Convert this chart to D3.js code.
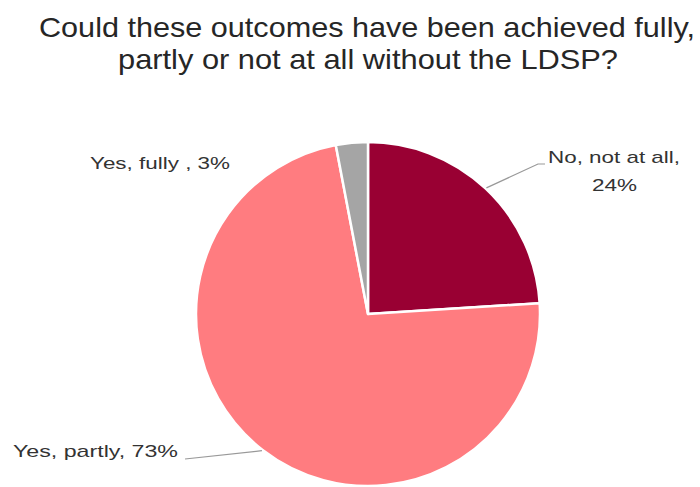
<!DOCTYPE html>
<html>
<head>
<meta charset="utf-8">
<script src="https://cdn.jsdelivr.net/npm/d3@7"></script>
<style>
    body { margin: 0; background: #fff; }
    text { font-family: "Liberation Sans", Arial, sans-serif; fill: #333; }
</style>
</head>
<body>
<div id="chart"></div>
<script>
/*
 * Chart data.
 */
var categories = ['No, not at all', 'Yes, partly', 'Yes, fully'];
var values     = [24, 73, 3];
var colors     = ['#990033', '#ff7c80', '#a5a5a5'];
var titleLines = ['Could these outcomes have been achieved fully,', 'partly or not at all without the LDSP?'];
var labelLines = [['No, not at all,', '24%'], ['Yes, partly, 73%'], ['Yes, fully , 3%']];

/*
 * Dimensions.
 */
var width  = 700;
var height = 487;
var cx = 368;
var cy = 314;
var radius = 172;

var svg = d3.select('#chart').append('svg')
    .attr('width', width)
    .attr('height', height);

/*
 * Title (boxes).
 */
var titleBoxes = [{ x: 39, y: 37, w: 656 }, { x: 118, y: 69, w: 500 }];

svg.append('g')
    .selectAll('text')
    .data(titleLines)
    .join('text')
    .attr('x', (d, i) => titleBoxes[i].x)
    .attr('y', (d, i) => titleBoxes[i].y)
    .attr('textLength', (d, i) => titleBoxes[i].w)
    .attr('lengthAdjust', 'spacingAndGlyphs')
    .style('font-size', '28px')
    .style('fill', '#262626')
    .text(d => d);

/*
 * Pie slices.
 */
var data = categories.map((c, i) => ({ name: c, value: values[i], color: colors[i] }));
var pie  = d3.pie().sort(null).value(d => d.value);
var arc  = d3.arc().innerRadius(0).outerRadius(radius);
var arcs = pie(data);

svg.append('g')
    .attr('transform', 'translate(' + cx + ',' + cy + ')')
    .selectAll('path')
    .data(arcs)
    .join('path')
    .attr('d', arc)
    .attr('fill', d => d.data.color)
    .attr('stroke', '#fff')
    .attr('stroke-width', 2.5)
    .attr('stroke-linejoin', 'round');

/*
 * Label placement, one entry per slice.
 */
var labelBoxes = [
    { boxes: [{ x: 548, y: 163, w: 132 }, { x: 592, y: 191, w: 45 }], leader: [[538, 164], [545, 164]] },
    { boxes: [{ x: 13, y: 457, w: 165 }], leader: [[185, 459]] },
    { boxes: [{ x: 90, y: 169, w: 140 }], leader: null }
];

labelBoxes.forEach(function(l, i) {
    if (l.leader) {
        var a = arcs[i];
        var mid = (a.startAngle + a.endAngle) / 2;
        var start = [cx + (radius + 1) * Math.sin(mid), cy - (radius + 1) * Math.cos(mid)];
        svg.append('path')
            .attr('d', d3.line()([start].concat(l.leader)))
            .attr('fill', 'none')
            .attr('stroke', '#999')
            .attr('stroke-width', 1.2);
    }
    l.boxes.forEach(function(b, j) {
        svg.append('text')
            .attr('x', b.x)
            .attr('y', b.y)
            .attr('textLength', b.w)
            .attr('lengthAdjust', 'spacingAndGlyphs')
            .style('font-size', '17px')
            .text(labelLines[i][j]);
    });
});
</script>
</body>
</html>
